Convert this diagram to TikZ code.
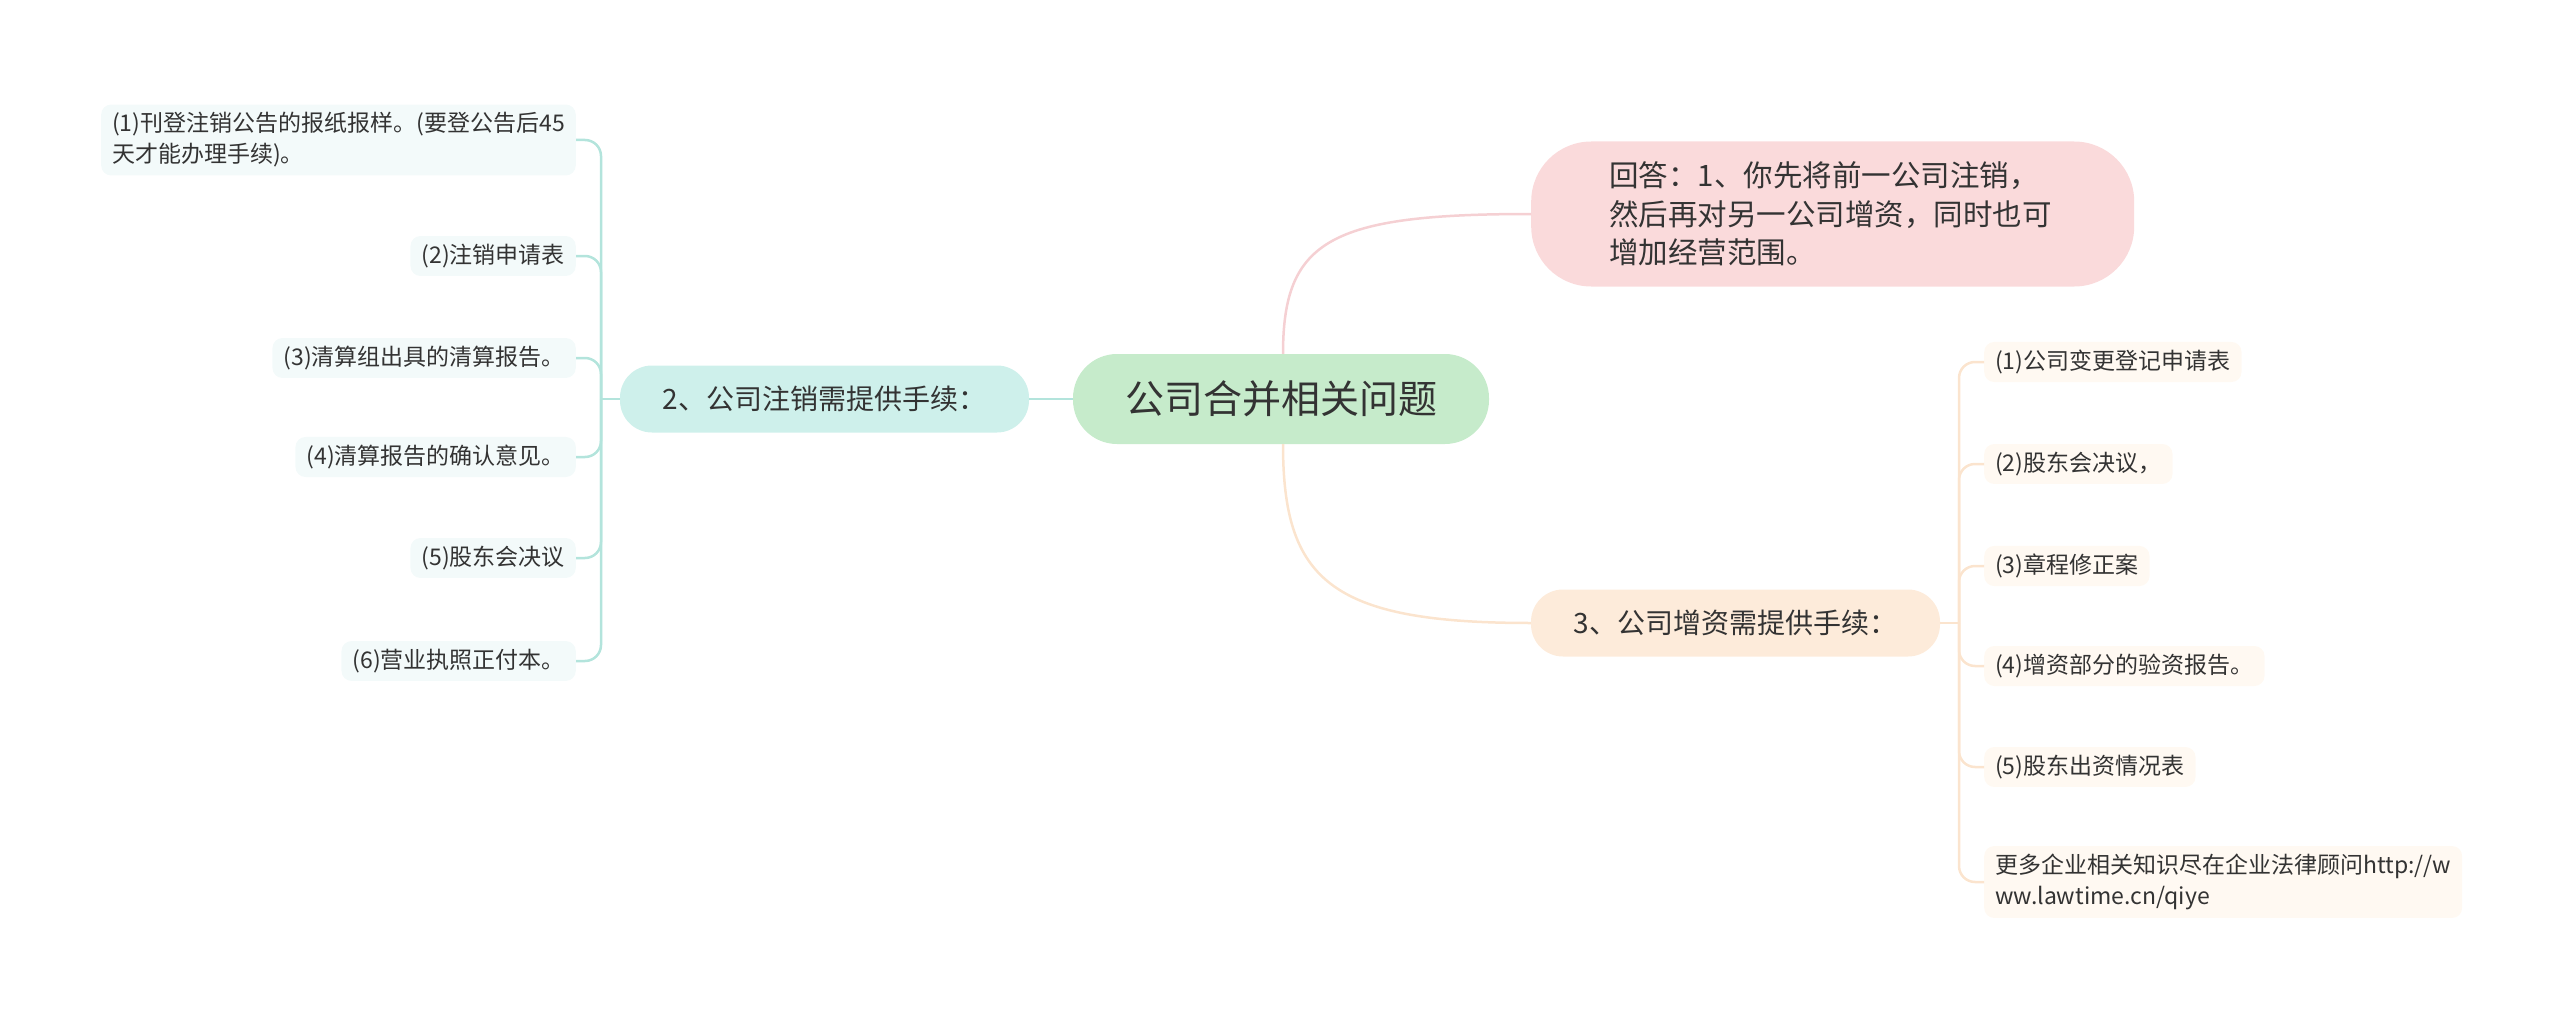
\documentclass[tikz,border=0pt]{standalone}
\usepackage{fontspec}
\setmainfont{Noto Sans CJK SC}
\definecolor{ink}{HTML}{333333}
\definecolor{rootfill}{HTML}{C6EBCB}
\definecolor{tealfill}{HTML}{CEF0EB}
\definecolor{tealline}{HTML}{B3E4DC}
\definecolor{tealleaf}{HTML}{F3FAFA}
\definecolor{pinkfill}{HTML}{FADADB}
\definecolor{pinkline}{HTML}{F5D0D3}
\definecolor{peachfill}{HTML}{FDEBDA}
\definecolor{peachline}{HTML}{FBE4CE}
\definecolor{peachleaf}{HTML}{FFF9F2}
\begin{document}
\begin{tikzpicture}[x=1pt,y=-1pt,
    topic/.style={text=ink, align=center, inner sep=0pt},
    rootbox/.style={topic, fill=rootfill, rounded corners=44pt, minimum width=416pt,
      minimum height=90pt, font=\fontsize{39}{47}\selectfont},
    midbox/.style={topic, rounded corners=32pt, minimum width=409pt,
      minimum height=67pt, font=\fontsize{28}{34}\selectfont},
    answerbox/.style={text=ink, align=left, fill=pinkfill, rounded corners=60pt,
      text width=447pt, inner xsep=78pt, inner ysep=12pt, minimum height=145pt,
      font=\fontsize{29.5}{38.5}\selectfont},
    leafbox/.style={text=ink, align=left, rounded corners=10pt, inner xsep=11pt,
      inner ysep=8pt, font=\fontsize{23}{31}\selectfont},
    lleaf/.style={leafbox, fill=tealleaf, anchor=east},
    rleaf/.style={leafbox, fill=peachleaf, anchor=west},
    link/.style={line width=2.5pt, rounded corners=16pt}]
  \useasboundingbox (0,0) rectangle (2560,1022);

  % centre
  \node[rootbox] (root) at (1281,399) {公司合并相关问题};
  \node[midbox, fill=tealfill] (b2) at (824.5,399) {2、公司注销需提供手续：};
  \node[answerbox, anchor=west] (ans) at (1531,214) {回答：1、你先将前一公司注销，\\然后再对另一公司增资，同时也可\\增加经营范围。};
  \node[midbox, fill=peachfill] (b3) at (1735.5,623) {3、公司增资需提供手续：};

  % left leaves
  \node[lleaf] (l1) at (576,140) {(1)刊登注销公告的报纸报样。(要登公告后45\\天才能办理手续)。};
  \node[lleaf] (l2) at (576,256) {(2)注销申请表};
  \node[lleaf] (l3) at (576,358) {(3)清算组出具的清算报告。};
  \node[lleaf] (l4) at (576,457) {(4)清算报告的确认意见。};
  \node[lleaf] (l5) at (576,558) {(5)股东会决议};
  \node[lleaf] (l6) at (576,661) {(6)营业执照正付本。};

  % right leaves
  \node[rleaf] (r1) at (1984,362) {(1)公司变更登记申请表};
  \node[rleaf] (r2) at (1984,464) {(2)股东会决议，};
  \node[rleaf] (r3) at (1984,566) {(3)章程修正案};
  \node[rleaf] (r4) at (1984,666) {(4)增资部分的验资报告。};
  \node[rleaf] (r5) at (1984,767) {(5)股东出资情况表};
  \node[rleaf] (r6) at (1984,882) {更多企业相关知识尽在企业法律顾问http://w\\ww.lawtime.cn/qiye};

  \coordinate (rc) at (1283,399);
  \coordinate (jl) at (601,399);
  \coordinate (jr) at (1959,623);

  % connectors
  \draw[link, tealline] (root.west) -- (b2.east);
  \draw[link, pinkline] (rc |- root.north) .. controls (1283,240) and (1330,214) .. (ans.west);
  \draw[link, peachline] (rc |- root.south) .. controls (1283,580) and (1330,623) .. (b3.west);

  \draw[link, tealline] (b2.west) -- (jl);
  \foreach \n in {l1,l2,l3,l4,l5,l6}
    \draw[link, tealline] (jl) |- (\n.east);

  \draw[link, peachline] (b3.east) -- (jr);
  \foreach \n in {r1,r2,r3,r4,r5,r6}
    \draw[link, peachline] (jr) |- (\n.west);
\end{tikzpicture}
\end{document}
